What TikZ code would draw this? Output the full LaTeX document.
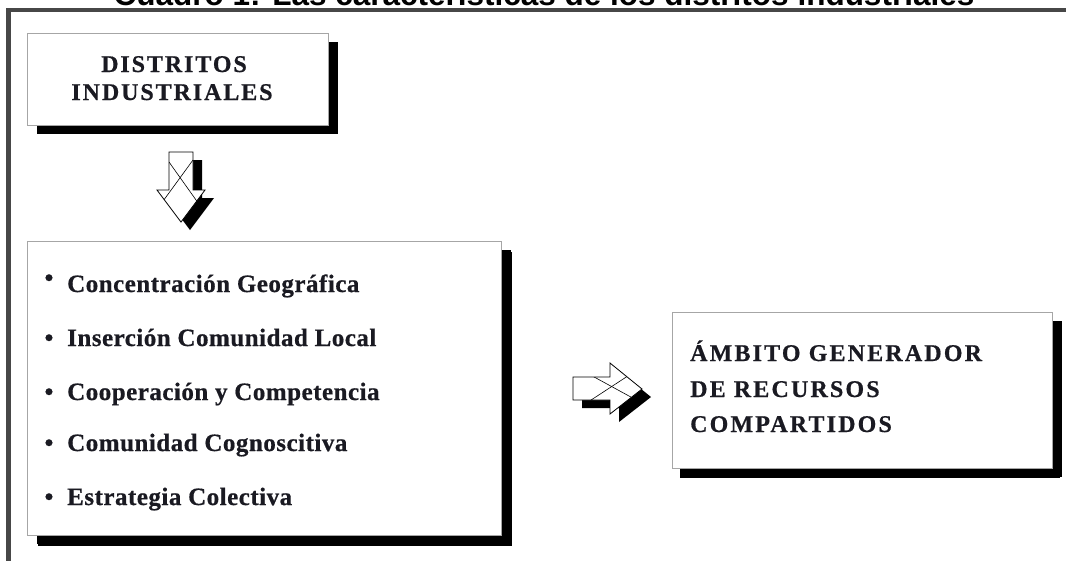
\documentclass[tikz,border=0pt]{standalone}
\usepackage{fontspec}
\setmainfont{Liberation Serif}
\newfontfamily\titlefont{Liberation Sans}
\usetikzlibrary{shadows}
\definecolor{framegray}{HTML}{474747}
\definecolor{inkc}{HTML}{1A1A22}
\begin{document}
\begin{tikzpicture}[x=1pt,y=-1pt,
  box/.style={draw=gray!70, line width=1.3pt, fill=white, inner sep=0pt, anchor=north west,
    drop shadow={shadow xshift=9pt, shadow yshift=-8pt, fill=black, opacity=1}},
  headtxt/.style={inner sep=0pt, text=inkc, font=\bfseries\fontsize{24}{28}\selectfont\addfontfeatures{LetterSpace=8,FakeBold=0.6}},
  item/.style={inner sep=0pt, anchor=base west, text=inkc, font=\bfseries\fontsize{25}{28}\selectfont\addfontfeatures{LetterSpace=2,FakeBold=0.6}},
  restxt/.style={inner sep=0pt, anchor=base west, text=inkc, font=\bfseries\fontsize{24}{28}\selectfont\addfontfeatures{LetterSpace=9,FakeBold=0.6}},
  frameline/.style={draw=framegray, line width=4.8pt},
  blockarrow/.style={draw=black, line width=0.8pt, fill=white},
  arrowshadow/.style={fill=black},
  crossline/.style={draw=black, line width=0.6pt}
]
\useasboundingbox (0,0) rectangle (1066,560);

% title (cut off at the top, as in the reference)
\node[anchor=base, inner sep=0pt, font=\titlefont\bfseries\fontsize{31.5}{31.5}\selectfont] (title) at (544,5) {Cuadro 1: Las características de los distritos industriales};

% outer frame
\draw[frameline] (8.5,600) -- (8.5,10) -- (1100,10);

% boxes
\node[box, minimum width=301pt, minimum height=92pt] (b1) at (27,33) {};
\node[box, minimum width=474pt, minimum height=294pt, drop shadow={shadow xshift=10pt, shadow yshift=-10pt, fill=black, opacity=1}] (b2) at (27,241) {};
\node[box, minimum width=380pt, minimum height=156pt, drop shadow={shadow xshift=7pt, shadow yshift=-9pt, fill=black, opacity=1}] (b3) at (672,312) {};

% box 1 text
\node[headtxt, anchor=base] (t1a) at (174,72) {DISTRITOS};
\node[headtxt, anchor=base] (t1b) at (172,100) {INDUSTRIALES};

% list items
\node[item] (i1) at (67,292) {Concentración Geográfica};
\node[item] (i2) at (67,346) {Inserción Comunidad Local};
\node[item] (i3) at (67,400) {Cooperación y Competencia};
\node[item] (i4) at (67,451) {Comunidad Cognoscitiva};
\node[item] (i5) at (67,505) {Estrategia Colectiva};
\node[item, anchor=base] (d1) at (49,286) {•};
\node[item, anchor=base] (d2) at (49,346) {•};
\node[item, anchor=base] (d3) at (49,400) {•};
\node[item, anchor=base] (d4) at (49,451) {•};
\node[item, anchor=base] (d5) at (49,505) {•};

% box 3 text
\node[restxt] (r1) at (690,361) {ÁMBITO GENERADOR};
\node[restxt] (r2) at (690,397) {DE RECURSOS};
\node[restxt] (r3) at (690,432) {COMPARTIDOS};

% down block arrow
\begin{scope}[shift={(9,8)}]
  \fill[arrowshadow] (169,152) -- (193,152) -- (193,190) -- (205,190) -- (181,222) -- (157,190) -- (169,190) -- cycle;
\end{scope}
\path[blockarrow] (169,152) -- (193,152) -- (193,190) -- (205,190) -- (181,222) -- (157,190) -- (169,190) -- cycle;
\begin{scope}
  \clip (169,152) -- (193,152) -- (193,190) -- (205,190) -- (181,222) -- (157,190) -- (169,190) -- cycle;
  \draw[crossline] (169,162) -- (206,214);
  \draw[crossline] (193,160) -- (158,208);
\end{scope}

% right block arrow
\begin{scope}[shift={(9,8)}]
  \fill[arrowshadow] (573,377) -- (610,377) -- (610,363) -- (642,389) -- (610,414) -- (610,400) -- (573,400) -- cycle;
\end{scope}
\path[blockarrow] (573,377) -- (610,377) -- (610,363) -- (642,389) -- (610,414) -- (610,400) -- (573,400) -- cycle;
\begin{scope}
  \clip (573,377) -- (610,377) -- (610,363) -- (642,389) -- (610,414) -- (610,400) -- (573,400) -- cycle;
  \draw[crossline] (585,372) -- (640,402);
  \draw[crossline] (585,404) -- (640,368);
\end{scope}
\end{tikzpicture}
\end{document}
